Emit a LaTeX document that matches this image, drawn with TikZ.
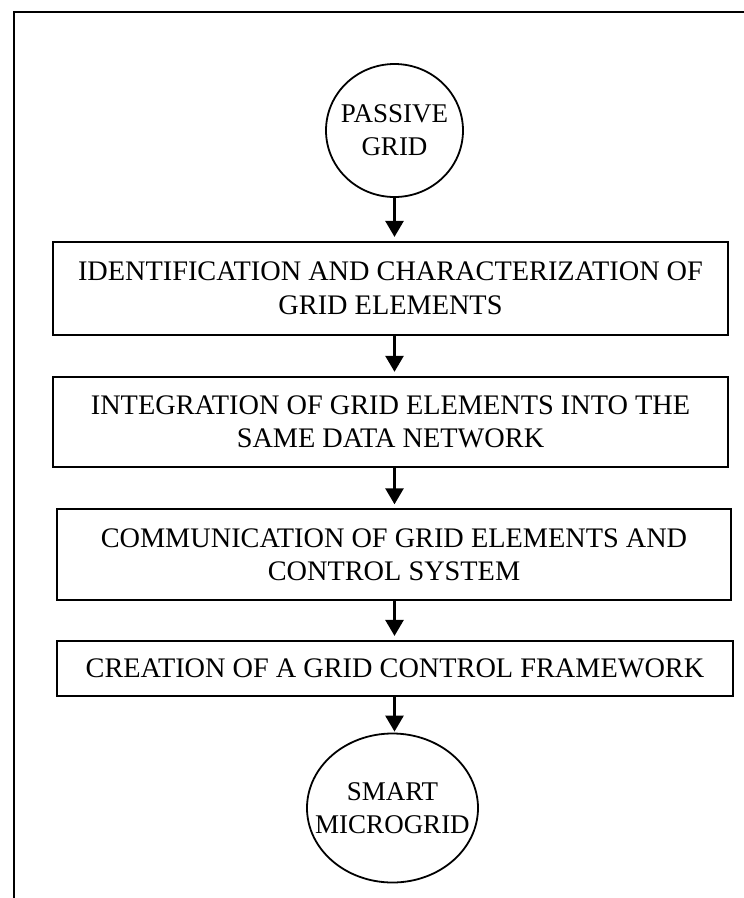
\documentclass[tikz,border=0pt]{standalone}
\usepackage{fontspec}
\setmainfont{Liberation Serif}
\usetikzlibrary{arrows.meta,shapes.geometric}
\begin{document}
\begin{tikzpicture}[x=1pt,y=-1pt,
  stepbox/.style={draw,line width=1.8pt,rectangle,align=center,inner sep=0pt,
    font=\fontsize{28.3}{33.5}\selectfont},
  endnode/.style={draw,line width=1.8pt,ellipse,inner xsep=-30pt,inner ysep=-20pt,
    align=center,font=\fontsize{27}{33}\selectfont},
  flow/.style={line width=2.7pt,-{Triangle[length=16pt,width=18pt]}}]
\useasboundingbox (0,0) rectangle (744,898);
% outer frame (only the top and left sides fall inside the page)
\draw[line width=2pt] (14,905) -- (14,11.7) -- (750,11.7);
% terminal shapes
\node[endnode,minimum width=137pt,minimum height=133pt] (start) at (394.5,130.5) {PASSIVE\\GRID};
\node[endnode,minimum width=171pt,minimum height=149pt] (finish) at (392.5,808) {SMART\\MICROGRID};
% process steps
\node[stepbox,minimum width=675pt,minimum height=93pt] (s1) at (390.5,288.3)
  {IDENTIFICATION AND CHARACTERIZATION OF\\GRID ELEMENTS};
\node[stepbox,minimum width=675pt,minimum height=90pt] (s2) at (390.5,421.7)
  {INTEGRATION OF GRID ELEMENTS INTO THE\\SAME DATA NETWORK};
\node[stepbox,minimum width=674pt,minimum height=91pt] (s3) at (394,554.7)
  {COMMUNICATION OF GRID ELEMENTS AND\\CONTROL SYSTEM};
\node[stepbox,minimum width=676pt,minimum height=55pt] (s4) at (395,668.3)
  {CREATION OF A GRID CONTROL FRAMEWORK};
% connectors
\draw[flow,shorten >=4pt] (start.south) -- (start.south |- s1.north);
\draw[flow,shorten >=4pt] (s1.south -| start.south) -- (s2.north -| start.south);
\draw[flow,shorten >=4pt] (s2.south -| start.south) -- (s3.north -| start.south);
\draw[flow,shorten >=4pt] (s3.south -| start.south) -- (s4.north -| start.south);
\draw[flow,shorten >=1pt] (s4.south -| start.south) -- (start.south |- finish.north);
\end{tikzpicture}
\end{document}
